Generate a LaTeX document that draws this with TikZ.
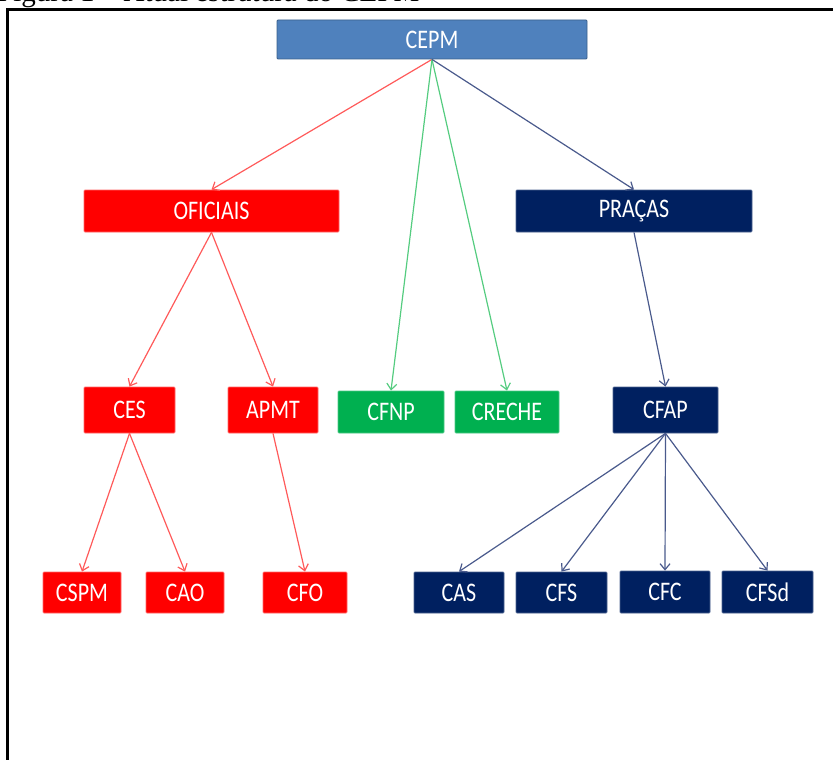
\documentclass[tikz,border=0pt]{standalone}
\usepackage{fontspec}
\setmainfont{Liberation Serif}
\newfontfamily\boxfont{Carlito}
\usetikzlibrary{arrows.meta}
\definecolor{cepmblue}{HTML}{4F81BD}
\definecolor{cepmedge}{HTML}{3A5F8B}
\definecolor{bred}{HTML}{FF0000}
\definecolor{bnavy}{HTML}{002060}
\definecolor{bgreen}{HTML}{00B050}
\definecolor{lred}{HTML}{FF5A5A}
\definecolor{lgreen}{HTML}{55CC80}
\definecolor{lnavy}{HTML}{4A5A8C}
\tikzset{
  box/.style={rectangle, inner sep=0pt, rounded corners=1pt, line width=0.8pt,
    text=white, font=\boxfont\fontsize{22}{22}\selectfont},
  redbox/.style={box, fill=bred, draw=bred!60!white},
  navybox/.style={box, fill=bnavy, draw=bnavy!70!white},
  greenbox/.style={box, fill=bgreen, draw=bgreen!70!white},
  bluebox/.style={box, fill=cepmblue, draw=cepmedge},
  conn/.style={line width=1.2pt, -{Straight Barb[length=6pt,width=10pt,line width=1.2pt]}},
  redc/.style={conn, draw=lred},
  greenc/.style={conn, draw=lgreen},
  navyc/.style={conn, draw=lnavy},
}
\newcommand{\bt}[1]{\scalebox{1}[1.22]{#1}}
\begin{document}
\begin{tikzpicture}[x=1pt,y=-1pt]
\useasboundingbox (0,0) rectangle (833,760);
% caption (cut off at top)
\node[anchor=base west, inner sep=0pt, font=\fontsize{29}{29}\selectfont] (cap) at (-3,2) {Figura 1 -- Atual estrutura do CEPM};
% frame
\draw[line width=3pt, line cap=rect] (7.5,850) -- (7.5,9.5) -- (900,9.5);
% nodes
\node[bluebox, minimum width=310pt, minimum height=39pt] (cepm) at (432,39.5) {\bt{CEPM}};
\node[redbox, minimum width=255pt, minimum height=42pt] (ofi) at (211.5,211) {\bt{OFICIAIS}};
\node[navybox, minimum width=236pt, minimum height=42pt] (pra) at (634,211) {\bt{PRAÇAS}};
\node[redbox, minimum width=91pt, minimum height=46pt] (ces) at (129.5,410) {\bt{CES}};
\node[redbox, minimum width=90pt, minimum height=46pt] (apmt) at (273,410) {\bt{APMT}};
\node[greenbox, minimum width=106pt, minimum height=42pt] (cfnp) at (391,412) {\bt{CFNP}};
\node[greenbox, minimum width=104pt, minimum height=42pt] (creche) at (507,412) {\bt{CRECHE}};
\node[navybox, minimum width=105pt, minimum height=46pt] (cfap) at (665.5,410) {\bt{CFAP}};
\node[redbox, minimum width=78pt, minimum height=41pt] (cspm) at (82,592.5) {\bt{CSPM}};
\node[redbox, minimum width=78pt, minimum height=41pt] (cao) at (185,592.5) {\bt{CAO}};
\node[redbox, minimum width=84pt, minimum height=41pt] (cfo) at (305,592.5) {\bt{CFO}};
\node[navybox, minimum width=90pt, minimum height=41pt] (cas) at (459,592.5) {\bt{CAS}};
\node[navybox, minimum width=91pt, minimum height=41pt] (cfs) at (561.5,592.5) {\bt{CFS}};
\node[navybox, minimum width=90pt, minimum height=42pt] (cfc) at (665,592) {\bt{CFC}};
\node[navybox, minimum width=91pt, minimum height=42pt] (cfsd) at (767.5,592) {\bt{CFSd}};
% connectors
\draw[redc] (cepm.south) -- (ofi.north);
\draw[greenc] (cepm.south) -- (cfnp.north);
\draw[greenc] (cepm.south) -- (creche.north);
\draw[navyc] (cepm.south) -- (pra.north);
\draw[redc] (ofi.south) -- (ces.north);
\draw[redc] (ofi.south) -- (apmt.north);
\draw[navyc] (pra.south) -- (cfap.north);
\draw[redc] (ces.south) -- (cspm.north);
\draw[redc] (ces.south) -- (cao.north);
\draw[redc] (apmt.south) -- (cfo.north);
\draw[navyc] (cfap.south) -- (cas.north);
\draw[navyc] (cfap.south) -- (cfs.north);
\draw[navyc] (cfap.south) -- (cfc.north);
\draw[navyc] (cfap.south) -- (cfsd.north);
\end{tikzpicture}
\end{document}
